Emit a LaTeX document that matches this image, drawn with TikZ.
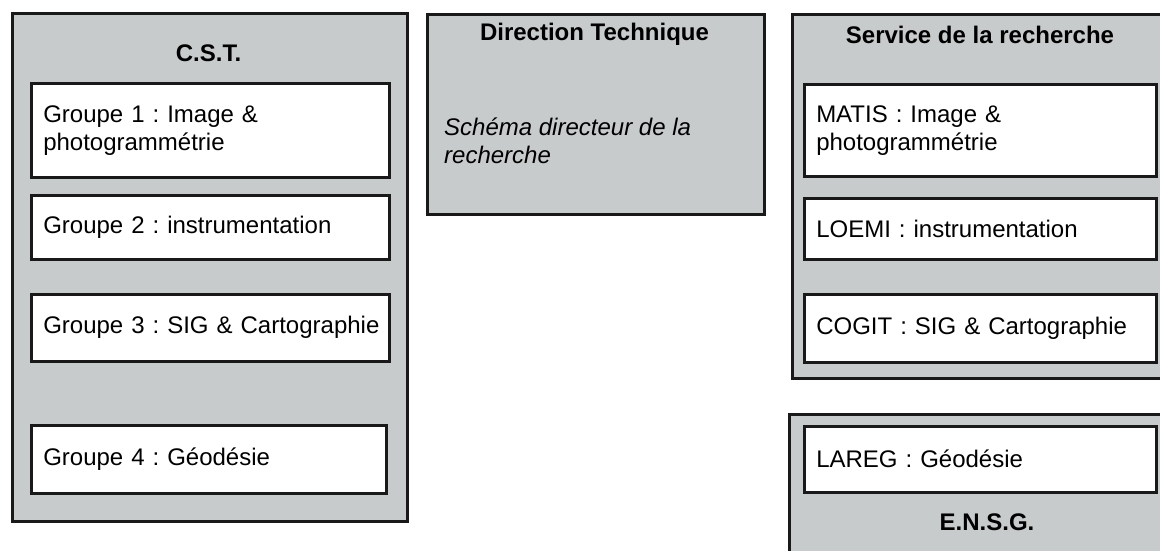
\documentclass[tikz,border=0pt]{standalone}
\usepackage{fontspec}
\setmainfont{Liberation Sans}
\frenchspacing
\hyphenpenalty=10000
\exhyphenpenalty=10000
\hbadness=10000
\hfuzz=20pt
\definecolor{panel}{RGB}{200,203,203}
\definecolor{ink}{RGB}{25,25,25}
\begin{document}
\begin{tikzpicture}[x=1pt,y=-1pt,
  outerbox/.style={draw=ink, line width=2.5pt, fill=panel, anchor=north west, inner sep=0pt},
  innerbox/.style={draw=ink, line width=2.5pt, fill=white, anchor=north west, inner xsep=12pt, inner ysep=0pt, align=left, font=\fontsize{24}{28}\selectfont},
  title/.style={font=\fontsize{24}{28}\selectfont\bfseries, inner sep=0pt},
  note/.style={font=\fontsize{24}{28}\selectfont\itshape, align=left, anchor=west, inner sep=0pt}]
\useasboundingbox (0,0) rectangle (1160,550);
\clip (0,0) rectangle (1160,550);
\fill[white] (0,0) rectangle (1160,550);
% C.S.T.
\node[outerbox, minimum width=395pt, minimum height=508pt] (cst) at (11,12) {};
\node[title] (cstT) at (208.5,53) {C.S.T.};
\node[innerbox, minimum width=358pt, minimum height=94pt, text width=334pt] (g1) at (30,82) {Groupe 1 : Image \&\\photogrammétrie};
\node[innerbox, minimum width=358pt, minimum height=64pt, text width=334pt] (g2) at (30,194) {Groupe 2 : instrumentation};
\node[innerbox, minimum width=358pt, minimum height=67pt, text width=334pt] (g3) at (30,293) {\mbox{Groupe 3 : SIG \& Cartographie}};
\node[innerbox, minimum width=355pt, minimum height=68pt, text width=331pt] (g4) at (30,424) {Groupe 4 : Géodésie};
% Direction Technique
\node[outerbox, minimum width=337pt, minimum height=200pt] (dt) at (426,13) {};
\node[title] (dtT) at (594.5,34) {Direction Technique};
\node[note] (dtN) at (444,141) {Schéma directeur de la\\recherche};
% Service de la recherche
\node[outerbox, minimum width=380pt, minimum height=364pt] (sr) at (791,13) {};
\node[title] (srT) at (980,35) {Service de la recherche};
\node[innerbox, minimum width=352pt, minimum height=92pt, text width=328pt] (matis) at (803,83) {MATIS : Image \&\\photogrammétrie};
\node[innerbox, minimum width=352pt, minimum height=61pt, text width=328pt] (loemi) at (803,197) {LOEMI : instrumentation};
\node[innerbox, minimum width=352pt, minimum height=68pt, text width=328pt] (cogit) at (803,293) {COGIT : SIG \& Cartographie};
% E.N.S.G.
\node[outerbox, minimum width=398pt, minimum height=200pt] (ensg) at (788,413) {};
\node[innerbox, minimum width=352pt, minimum height=66pt, text width=328pt] (lareg) at (803,425) {LAREG : Géodésie};
\node[title] (ensgT) at (987,522) {E.N.S.G.};
\end{tikzpicture}
\end{document}
